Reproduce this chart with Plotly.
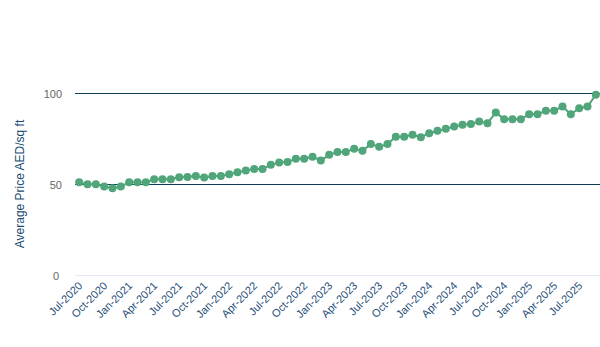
import plotly.graph_objects as go

months = []
mnames = ["Jan", "Feb", "Mar", "Apr", "May", "Jun", "Jul", "Aug", "Sep", "Oct", "Nov", "Dec"]
y0, m0 = 2020, 6
for k in range(63):
    mm = (m0 + k) % 12
    yy = y0 + (m0 + k) // 12
    months.append(f"{mnames[mm]}-{yy}")

prices = [51.5, 50.4, 50.4, 49.1, 48.2, 49.1, 51.5, 51.5, 51.5, 53.1, 53.1, 53.1,
          54.2, 54.4, 54.9, 54.0, 54.9, 54.9, 55.9, 57.0, 57.9, 58.8, 58.8, 61.0,
          62.3, 62.6, 64.3, 64.3, 65.5, 63.4, 66.5, 68.0, 68.0, 69.8, 68.8, 72.4,
          71.0, 72.4, 76.5, 76.5, 77.5, 76.2, 78.4, 79.7, 80.8, 82.0, 83.0, 83.4,
          84.8, 83.9, 89.8, 86.1, 86.1, 86.1, 88.8, 88.8, 90.7, 90.7, 93.0, 88.8,
          92.1, 93.0, 99.5]

tick_idx = list(range(0, 63, 3))
tick_labels = [months[i] for i in tick_idx]

green = "#50a67a"
fig = go.Figure()
fig.add_trace(go.Scatter(
    x=list(range(len(prices))), y=prices, mode="lines+markers",
    line=dict(color=green, width=2),
    marker=dict(color=green, size=8),
    cliponaxis=False, hoverinfo="x+y",
    showlegend=False,
))
fig.update_layout(
    width=600, height=347,
    margin=dict(l=75, r=0, t=92, b=71),
    paper_bgcolor="white", plot_bgcolor="white",
    font=dict(family="Liberation Sans, Arial, sans-serif", size=11, color="#666666"),
    xaxis=dict(
        range=[-0.5, 62.5], tickvals=tick_idx, ticktext=tick_labels,
        tickangle=-45, showgrid=False, zeroline=False, showline=False,
        tickfont=dict(color="#1f4e79", size=11), ticks="",
    ),
    yaxis=dict(
        range=[0, 101], tickvals=[50, 100], showgrid=True,
        gridcolor="#0e3d5e", gridwidth=1, zeroline=False, showline=False,
        tickfont=dict(color="#666666", size=11), ticklabelstandoff=12,
        title=dict(text="Average Price AED/sq ft", font=dict(color="#1a4a72", size=12), standoff=16),
    ),
)
# baseline at 0 (light axis line)
fig.add_shape(type="line", xref="paper", yref="y", x0=0, x1=1, y0=0, y1=0,
              line=dict(color="#c6d5ea", width=1), layer="below")
fig.add_annotation(xref="paper", yref="y", x=0, y=0, text="0", showarrow=False,
                   xanchor="right", xshift=-14, font=dict(color="#666666", size=11))
fig.write_html("out.html")
